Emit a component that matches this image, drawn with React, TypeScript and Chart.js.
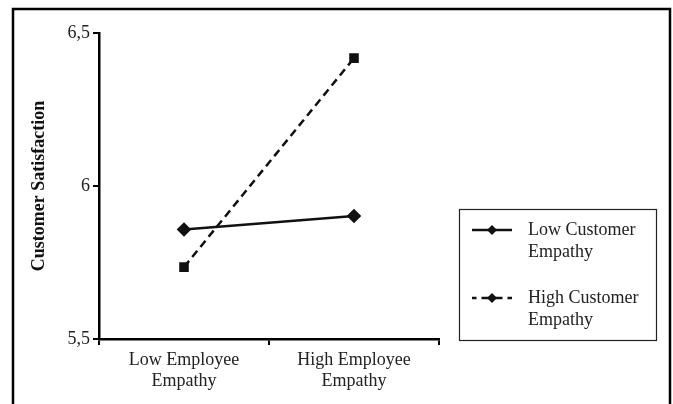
import React, { useEffect, useRef } from "react";
import { Chart, registerables } from "chart.js";

Chart.register(...registerables);

const categories = [
  ["Low Employee", "Empathy"],
  ["High Employee", "Empathy"],
];
const lowCustomerEmpathy = [5.858, 5.902];
const highCustomerEmpathy = [5.735, 6.418];
const seriesLabels = [
  ["Low Customer", "Empathy"],
  ["High Customer", "Empathy"],
];
const yTickValues = [5.5, 6, 6.5];
const yTickLabels = ["5,5", "6", "6,5"];
const yTitle = "Customer Satisfaction";

const FONT = '"Liberation Serif", "Times New Roman", serif';
const INK = "#111";

const framePlugin = {
  id: "frameAndLegend",
  afterDraw(chart: any) {
    const ctx = chart.ctx as CanvasRenderingContext2D;
    ctx.save();
    // outer frame
    ctx.strokeStyle = "#000";
    ctx.lineWidth = 2.5;
    ctx.strokeRect(13, 9, 657, 440);
    // legend box
    ctx.lineWidth = 1.2;
    ctx.strokeStyle = "#222";
    ctx.strokeRect(459.5, 209.5, 197, 131);
    const rows = [230, 298];
    const cx = 492;
    chart.data.datasets.forEach((ds: any, i: number) => {
      const y = rows[i];
      const dash: number[] = ds.borderDash || [];
      ctx.lineWidth = 2.5;
      ctx.strokeStyle = INK;
      ctx.setLineDash(dash);
      ctx.lineDashOffset = dash.length ? -dash[1] / 2 : 0;
      [472, 512].forEach((end) => {
        ctx.beginPath();
        ctx.moveTo(cx, y);
        ctx.lineTo(end, y);
        ctx.stroke();
      });
      ctx.setLineDash([]);
      ctx.lineDashOffset = 0;
      ctx.beginPath();
      ctx.moveTo(cx, y - 5);
      ctx.lineTo(cx + 5, y);
      ctx.lineTo(cx, y + 5);
      ctx.lineTo(cx - 5, y);
      ctx.closePath();
      ctx.fillStyle = INK;
      ctx.fill();
      ctx.font = `18px ${FONT}`;
      ctx.textBaseline = "middle";
      ctx.textAlign = "left";
      ctx.fillStyle = "#222";
      seriesLabels[i].forEach((t, j) => ctx.fillText(t, 528, y + j * 22));
    });
    ctx.restore();
  },
};

export default function App() {
  const ref = useRef<HTMLCanvasElement | null>(null);

  useEffect(() => {
    if (!ref.current) return;
    const chart = new Chart(ref.current, {
      type: "line",
      data: {
        labels: categories as any,
        datasets: [
          {
            label: seriesLabels[0].join(" "),
            data: lowCustomerEmpathy,
            borderColor: INK,
            backgroundColor: INK,
            borderWidth: 2.5,
            pointStyle: "rectRot",
            pointRadius: 5.5,
            pointHoverRadius: 5.5,
            tension: 0,
            fill: false,
          },
          {
            label: seriesLabels[1].join(" "),
            data: highCustomerEmpathy,
            borderColor: INK,
            backgroundColor: INK,
            borderWidth: 2.5,
            borderDash: [8, 5],
            pointStyle: "rect",
            pointRadius: 5,
            pointHoverRadius: 5,
            tension: 0,
            fill: false,
          },
        ],
      },
      options: {
        responsive: false,
        animation: false,
        devicePixelRatio: 1,
        layout: { padding: { left: 0, right: 673 - 439, top: 33, bottom: 0 } },
        plugins: {
          legend: { display: false },
          tooltip: { enabled: false },
        },
        scales: {
          x: {
            type: "category",
            offset: true,
            grid: {
              display: true,
              offset: true,
              drawOnChartArea: false,
              drawTicks: true,
              tickLength: 6,
              color: "#000",
              lineWidth: 2,
            },
            border: { display: true, color: "#000", width: 2.5 },
            ticks: {
              color: "#222",
              padding: 4,
              maxRotation: 0,
              autoSkip: false,
              font: { family: FONT, size: 18, lineHeight: 1.2 },
            },
            afterFit(scale: any) {
              scale.height = 404 - 339;
            },
          },
          y: {
            type: "linear",
            min: 5.5,
            max: 6.5,
            afterBuildTicks(scale: any) {
              scale.ticks = yTickValues.map((v) => ({ value: v }));
            },
            grid: {
              display: true,
              drawOnChartArea: false,
              drawTicks: true,
              tickLength: 6,
              color: "#000",
              lineWidth: 2,
            },
            border: { display: true, color: "#000", width: 2.5 },
            ticks: {
              color: "#222",
              padding: 3,
              font: { family: FONT, size: 18 },
              callback: (value: any) => {
                const idx = yTickValues.indexOf(Number(value));
                return idx >= 0 ? yTickLabels[idx] : "";
              },
            },
            title: {
              display: true,
              text: yTitle,
              color: "#111",
              padding: { top: 29, bottom: 0 },
              font: { family: FONT, size: 18, weight: "bold", lineHeight: 1.2 },
            },
            afterFit(scale: any) {
              scale.width = 99;
            },
          },
        },
      },
      plugins: [framePlugin],
    });
    return () => chart.destroy();
  }, []);

  return (
    <div style={{ position: "fixed", left: 0, top: 0, width: 673, height: 404, background: "#fff" }}>
      <canvas ref={ref} width={673} height={404} />
    </div>
  );
}
